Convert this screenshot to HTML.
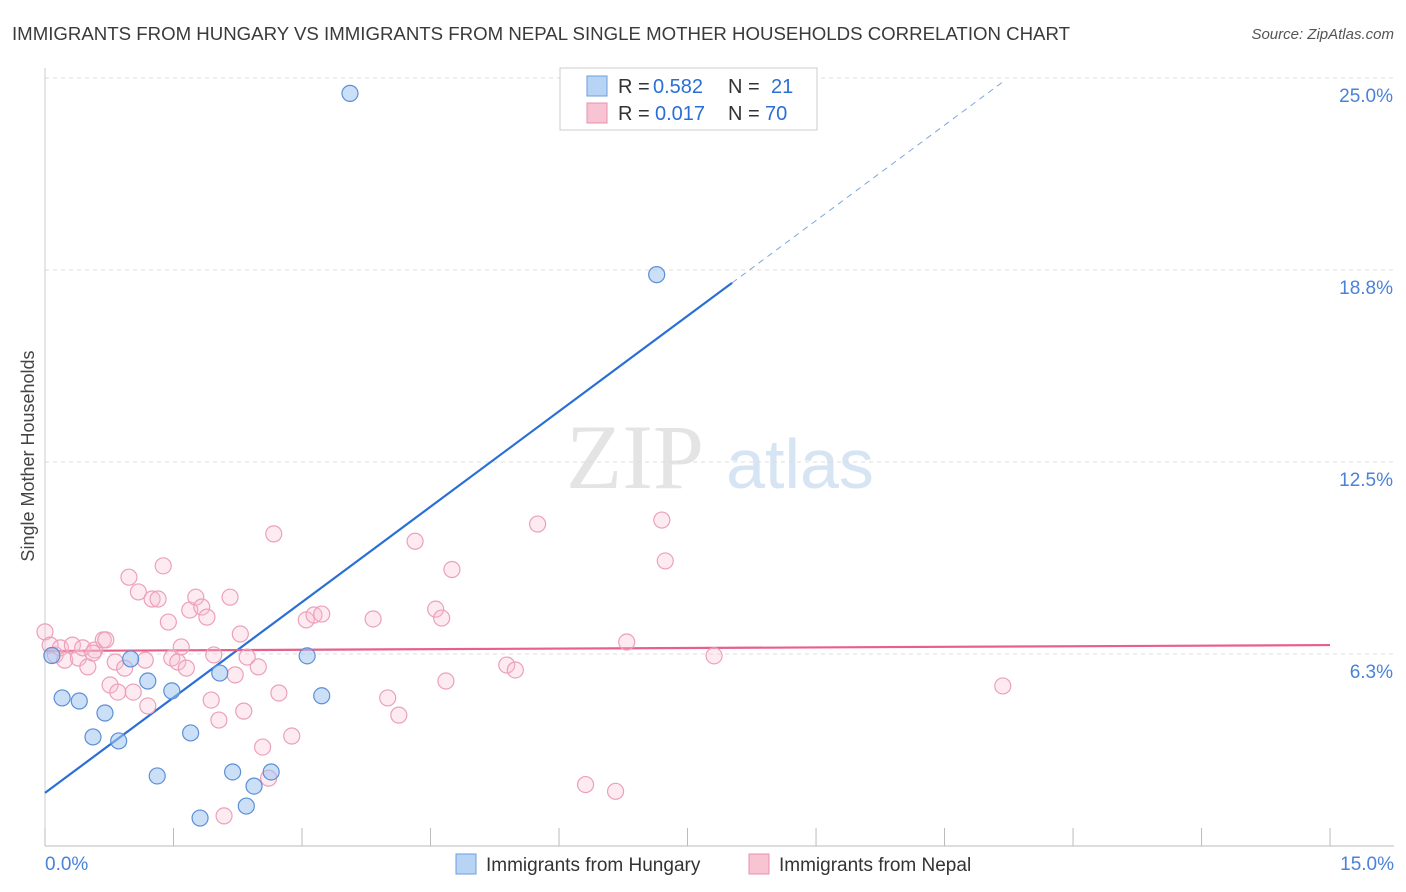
<!DOCTYPE html>
<html><head><meta charset="utf-8"><style>
body{margin:0;background:#fff;font-family:"Liberation Sans",sans-serif}
svg{display:block}
</style></head><body>
<svg id="chart" width="1406" height="892">
<text x="12" y="40" font-size="18" fill="#3a3a3a" textLength="1058" lengthAdjust="spacingAndGlyphs">IMMIGRANTS FROM HUNGARY VS IMMIGRANTS FROM NEPAL SINGLE MOTHER HOUSEHOLDS CORRELATION CHART</text>
<text x="1394" y="39" font-size="15" fill="#555" text-anchor="end" font-style="italic">Source: ZipAtlas.com</text>
<g>
<text x="635" y="488" font-size="92" fill="#e4e4e4" text-anchor="middle" font-family="Liberation Serif,serif">ZIP</text>
<text x="800" y="488" font-size="70" fill="#d6e4f3" text-anchor="middle">atlas</text></g>
<text transform="translate(34,456) rotate(-90)" font-size="18" fill="#444" text-anchor="middle">Single Mother Households</text>
<g id="grid"></g><g id="lines"></g><g id="pts"></g>
<g>
<rect x="560" y="68" width="257" height="62" fill="#fff" stroke="#ccc"/>
<rect x="587" y="76" width="20" height="20" fill="#b8d4f5" stroke="#6a9ee0"/>
<rect x="587" y="103" width="20" height="20" fill="#f8c4d4" stroke="#e890ac"/>
<text x="618" y="93" font-size="20" fill="#333">R =</text>
<text x="653" y="93" font-size="20" fill="#2a6fd6">0.582</text>
<text x="728" y="93" font-size="20" fill="#333">N =</text>
<text x="771" y="93" font-size="20" fill="#2a6fd6">21</text>
<text x="618" y="120" font-size="20" fill="#333">R =</text>
<text x="655" y="120" font-size="20" fill="#2a6fd6">0.017</text>
<text x="728" y="120" font-size="20" fill="#333">N =</text>
<text x="765" y="120" font-size="20" fill="#2a6fd6">70</text>
</g>
<g>
<rect x="456" y="854" width="20" height="20" fill="#b8d4f5" stroke="#6a9ee0"/>
<text x="486" y="871" font-size="19" fill="#333">Immigrants from Hungary</text>
<rect x="749" y="854" width="20" height="20" fill="#f8c4d4" stroke="#e890ac"/>
<text x="779" y="871" font-size="19" fill="#333">Immigrants from Nepal</text>
</g>
</svg>
<script>
const hungaryX=[3.56,7.14,0.08,0.2,0.4,0.7,0.56,0.86,1.0,1.2,1.48,1.31,1.7,1.81,2.04,2.19,2.44,2.35,2.64,3.06,3.23];
const hungaryY=[24.5,18.6,6.2,4.82,4.72,4.33,3.55,3.42,6.09,5.37,5.05,2.28,3.68,0.91,5.63,2.41,1.95,1.3,2.41,6.19,4.89];
const nepalX=[0,0.06,0.12,0.18,0.23,0.32,0.39,0.44,0.5,0.58,0.68,0.76,0.82,0.85,0.93,0.98,1.03,1.09,1.17,1.2,1.25,1.32,1.38,1.44,1.48,1.55,1.59,1.65,1.69,1.76,1.83,1.89,1.94,1.97,2.03,2.16,2.22,2.28,2.32,2.36,2.49,2.54,2.61,2.67,2.73,2.88,3.05,3.14,3.23,3.83,4.0,4.13,4.32,4.56,4.63,4.68,4.75,5.39,5.49,5.75,6.31,6.66,6.79,7.2,7.24,7.81,11.18,2.09,0.71,0.56];
const nepalY=[6.97,6.54,6.22,6.45,6.05,6.54,6.12,6.45,5.83,6.38,6.71,5.24,5.99,5.01,5.79,8.75,5.01,8.27,6.05,4.56,8.04,8.04,9.12,7.29,6.12,5.99,6.48,5.79,7.68,8.1,7.78,7.45,4.75,6.22,4.1,8.1,5.57,6.9,4.39,6.15,5.83,3.22,2.21,10.16,4.98,3.58,7.36,7.52,7.55,7.39,4.82,4.26,9.92,7.71,7.42,5.37,9.0,5.89,5.73,10.48,2.0,1.78,6.64,10.61,9.28,6.19,5.21,0.98,6.71,6.28];
const xTicks=[0,1.5,3,4.5,6,7.5,9,10.5,12,13.5,15];
const yTicks=[6.25,12.5,18.75,25];
const yTickLabels=["6.3%","12.5%","18.8%","25.0%"];
const xTickLabels=["0.0%","15.0%"];
const hungaryFit=[1.73,2.07], nepalFit=[6.35,0.0127];
const X=v=>45+v*85.67, Y=v=>846-v*30.72;
const NS="http://www.w3.org/2000/svg";
function mk(p,t,a){const e=document.createElementNS(NS,t);for(const k in a)e.setAttribute(k,a[k]);p.appendChild(e);return e;}
const g=document.getElementById('grid');
yTicks.forEach((v,i)=>{
 const l=mk(g,'line',{x1:45,x2:1394,y1:Y(v),y2:Y(v),stroke:'#ddd','stroke-dasharray':'4,4'});
 
 
 const t=mk(g,'text',{x:1393,y:Y(v)+24,'font-size':19,fill:'#4a82d8','text-anchor':'end'});t.textContent=yTickLabels[i];
 
 
});
const ax=mk(g,'line',{x1:45,x2:1394,y1:846,y2:846,stroke:'#bbb'});


const ay=mk(g,'line',{x1:45,x2:45,y1:68,y2:846,stroke:'#ccc'});


xTicks.forEach(v=>{const l=mk(g,'line',{x1:X(v),x2:X(v),y1:828,y2:846,stroke:'#bbb'});
 
 });
[[0,45,'start'],[1,1394,'end']].forEach(([i,x,a])=>{const t=mk(g,'text',{x:x,y:870,'font-size':19,fill:'#4a82d8','text-anchor':a});t.textContent=xTickLabels[i];
 
 });
const pg=document.getElementById('pts');
nepalX.forEach((v,i)=>{const c=mk(pg,'circle',{cx:X(v),cy:Y(nepalY[i]),r:8,fill:'rgba(248,190,210,0.3)',stroke:'#eca0ba','stroke-width':1.2});
 
 });
hungaryX.forEach((v,i)=>{const c=mk(pg,'circle',{cx:X(v),cy:Y(hungaryY[i]),r:8,fill:'rgba(160,196,240,0.55)',stroke:'#5b8fd6','stroke-width':1.2});
 
 });
const lg=document.getElementById('lines');
const hf=x=>hungaryFit[0]+hungaryFit[1]*x;
let l1=mk(lg,'line',{x1:X(0),y1:Y(hf(0)),x2:X(8.02),y2:Y(hf(8.02)),stroke:'#2a6fd6','stroke-width':2.2});


let l2=mk(lg,'line',{x1:X(8.02),y1:Y(hf(8.02)),x2:X(11.18),y2:Y(hf(11.18)),stroke:'#7aa6e0','stroke-width':1,'stroke-dasharray':'6,5'});


const nf=x=>nepalFit[0]+nepalFit[1]*x;
let l3=mk(lg,'line',{x1:X(0),y1:Y(nf(0)),x2:X(15),y2:Y(nf(15)),stroke:'#e8608a','stroke-width':2.2});


</script>
</body></html>
